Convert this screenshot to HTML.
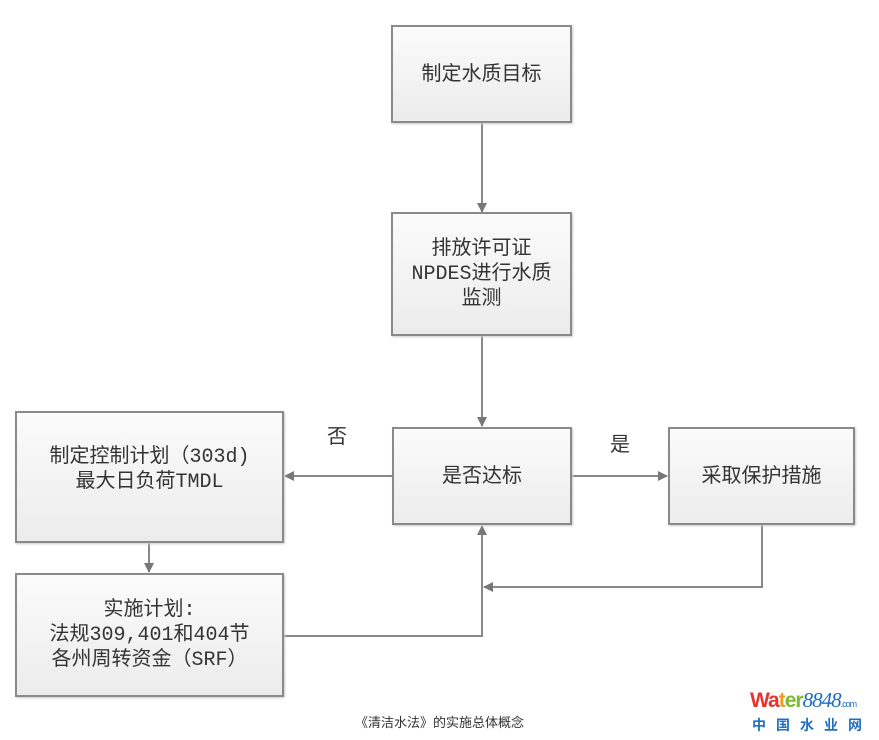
<!DOCTYPE html>
<html><head><meta charset="utf-8"><style>
body{margin:0;width:879px;height:740px;background:#fff;overflow:hidden;position:relative;font-family:"Liberation Sans","Noto Sans CJK SC",sans-serif}
.b{position:absolute;box-sizing:border-box;border:2px solid #8a8a8a;background:linear-gradient(#fbfbfb,#ececec);box-shadow:1px 1px 2px #ccc;display:flex;align-items:center;justify-content:center;text-align:center;font-size:20px;color:#333;line-height:25px}
.t{position:absolute;font-size:20px;color:#333}
</style></head><body>
<svg width="879" height="740" style="position:absolute;left:0;top:0">
<defs><marker id="a" markerWidth="10" markerHeight="10" refX="9" refY="5" orient="auto" markerUnits="userSpaceOnUse"><path d="M0,0 L10,5 L0,10 Z" fill="#777"/></marker></defs>
<g stroke="#888" stroke-width="2" fill="none">
<line x1="482" y1="122" x2="482" y2="212" marker-end="url(#a)"/>
<line x1="482" y1="336" x2="482" y2="426" marker-end="url(#a)"/>
<line x1="392" y1="476" x2="285" y2="476" marker-end="url(#a)"/>
<line x1="571" y1="476" x2="667" y2="476" marker-end="url(#a)"/>
<line x1="149" y1="543" x2="149" y2="572" marker-end="url(#a)"/>
<polyline points="283,636 482,636 482,526" marker-end="url(#a)"/>
<polyline points="762,525 762,587 484,587" marker-end="url(#a)"/>
</g></svg>
<div class="b" style="left:391px;top:25px;width:181px;height:98px">制定水质目标</div>
<div class="b" style="left:391px;top:212px;width:181px;height:124px;font-family:'Liberation Mono','Noto Sans CJK SC',monospace">排放许可证<br>NPDES进行水质<br>监测</div>
<div class="b" style="left:392px;top:427px;width:180px;height:98px">是否达标</div>
<div class="b" style="left:668px;top:427px;width:187px;height:98px">采取保护措施</div>
<div class="b" style="left:15px;top:411px;width:269px;height:132px;font-family:'Liberation Mono','Noto Sans CJK SC',monospace;padding-bottom:14px">制定控制计划（303d)<br>最大日负荷TMDL</div>
<div class="b" style="left:15px;top:573px;width:269px;height:124px;font-family:'Liberation Mono','Noto Sans CJK SC',monospace">实施计划:<br>法规309,401和404节<br>各州周转资金（SRF）</div>
<div class="t" style="left:327px;top:420px">否</div>
<div class="t" style="left:610px;top:428px">是</div>
<div style="position:absolute;left:0;width:879px;top:712px;text-align:center;font-size:13px;color:#333">《清洁水法》的实施总体概念</div>
<div style="position:absolute;left:750px;top:688px;font-size:21px;font-weight:bold;letter-spacing:-1px;white-space:nowrap"><span style="color:#e8322e">Wa</span><span style="color:#f29a1d">t</span><span style="color:#7cb92e">er</span><span style="color:#1f6fc0;font-style:italic;font-weight:normal;font-family:'Liberation Serif',serif">8848</span><span style="color:#1f6fc0;font-size:9px;font-weight:normal">.com</span></div>
<div style="position:absolute;left:752px;top:715px;font-size:14px;color:#1f6fc0;letter-spacing:10px;font-weight:bold;white-space:nowrap">中国水业网</div>
</body></html>
